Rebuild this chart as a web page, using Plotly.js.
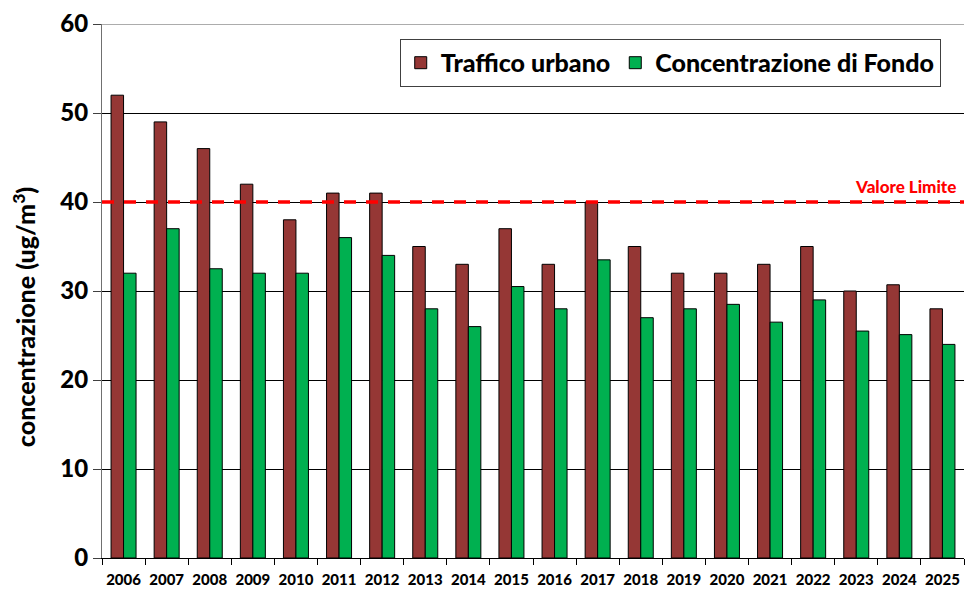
<!DOCTYPE html>
<html>
<head>
<meta charset="utf-8">
<script src="https://cdn.plot.ly/plotly-3.0.1.min.js"></script>
<style>html,body{margin:0;padding:0;background:#fff;}#chart{width:965px;height:590px;}</style>
</head>
<body>
<div id="chart"></div>
<script>
const years = ["2006","2007","2008","2009","2010","2011","2012","2013","2014","2015","2016","2017","2018","2019","2020","2021","2022","2023","2024","2025"];
const traffico = [52,49,46,42,38,41,41,35,33,37,33,40,35,32,32,33,35,30,30.7,28];
const fondo = [32,37,32.5,32,32,36,34,28,26,30.5,28,33.5,27,28,28.5,26.5,29,25.5,25.1,24];
const valoreLimite = 40;
const yTicks = [0,10,20,30,40,50,60];

const font = "Lato, 'Open Sans', sans-serif";

const traces = [
  {type:"bar", name:"Traffico urbano", x:years, y:traffico,
   marker:{color:"#953735", line:{color:"#000000", width:1}}},
  {type:"bar", name:"Concentrazione di Fondo", x:years, y:fondo,
   marker:{color:"#00B050", line:{color:"#000000", width:1}}}
];

const layout = {
  width:965, height:590,
  margin:{l:102, r:1, t:24, b:32},
  paper_bgcolor:"#ffffff", plot_bgcolor:"#ffffff",
  barmode:"group", bargap:0.42, bargroupgap:0,
  font:{family:font, color:"#000000"},
  showlegend:true,
  legend:{orientation:"h", x:0.973, xanchor:"right", y:0.972, yanchor:"top",
    bgcolor:"#ffffff", bordercolor:"#404040", borderwidth:1,
    font:{family:font, size:25, color:"#000000", weight:900},
    itemwidth:30, traceorder:"normal", valign:"middle"},
  xaxis:{type:"category", tickson:"boundaries", ticks:"outside", ticklen:6,
    tickcolor:"#000000", showline:true, linecolor:"#000000", linewidth:1,
    showgrid:false, zeroline:false, tickangle:0, automargin:false,
    ticklabelstandoff:8,
    tickfont:{family:font, size:15, color:"#000000", weight:900}},
  yaxis:{range:[0,60], tickvals:yTicks, ticktext:yTicks.map(String),
    ticks:"outside", ticklen:8, tickcolor:"#404040", automargin:false,
    showline:true, linecolor:"#707070", linewidth:1,
    showgrid:true, gridcolor:"#000000", gridwidth:1, zeroline:false,
    tickfont:{family:font, size:24, color:"#000000", weight:900}},
  shapes:[
    {type:"line", xref:"paper", x0:0, x1:1, yref:"y", y0:valoreLimite, y1:valoreLimite,
     line:{color:"#FF0000", width:3.5, dash:"12px,10px"}, layer:"above"},
    {type:"line", xref:"paper", x0:0, x1:1, yref:"y", y0:60, y1:60,
     line:{color:"#909090", width:1.5}, layer:"above"}
  ],
  annotations:[
    {text:"Valore Limite", xref:"paper", x:0.993, xanchor:"right",
     yref:"y", y:valoreLimite, yanchor:"bottom", yshift:3, showarrow:false,
     font:{family:font, size:17, color:"#FF0000", weight:900}},
    {text:"concentrazione (ug/m<sup>3</sup>)", xref:"paper", x:-0.0905, xanchor:"center",
     yref:"paper", y:0.451, yanchor:"middle", textangle:-90, showarrow:false,
     font:{family:font, size:25, color:"#000000", weight:900}}
  ]
};

Plotly.newPlot("chart", traces, layout, {displayModeBar:false, staticPlot:true});
</script>
</body>
</html>
